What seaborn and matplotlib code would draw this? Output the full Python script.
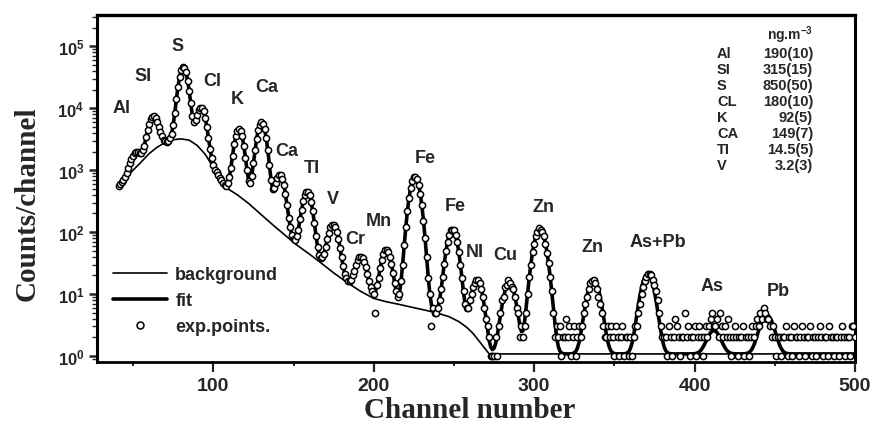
import numpy as np
import matplotlib
matplotlib.use("Agg")
import matplotlib.pyplot as plt
import seaborn as sns
from matplotlib.lines import Line2D
from matplotlib.ticker import FixedLocator, LogLocator, NullFormatter, FixedFormatter

# ---- spectrum data -------------------------------------------------------
first_channel = 41

# measured counts per channel, channels 41..500
exp_counts = [
    560, 600, 640, 700, 780, 890, 1100, 1300, 1500, 1700,
    1900, 2000, 2000, 1900, 1900, 2100, 2500, 3400, 4400, 5600,
    6700, 7300, 7500, 7000, 6100, 5000, 4100, 3500, 3100, 2950,
    2900, 3000, 3300, 3900, 5400, 8400, 14000, 22000, 32000, 41000,
    46000, 44000, 38000, 28000, 19000, 12000, 7500, 6100, 6400, 7800,
    9300, 10000, 10000, 8900, 7000, 4900, 3300, 2200, 1600, 1200,
    1000, 920, 840, 760, 690, 630, 580, 560, 610, 780,
    1100, 1700, 2600, 3500, 4300, 4600, 4300, 3500, 2500, 1600,
    1000, 680, 630, 820, 1300, 2100, 3200, 4400, 5400, 5900,
    5500, 4600, 3300, 2100, 1200, 690, 500, 510, 620, 750,
    840, 830, 730, 570, 410, 270, 170, 120, 89, 77,
    75, 85, 110, 160, 230, 320, 400, 450, 450, 400,
    310, 220, 140, 88, 58, 43, 38, 39, 45, 58,
    76, 97, 120, 130, 130, 120, 100, 77, 56, 39,
    28, 21, 18, 16, 16, 17, 20, 24, 29, 35,
    39, 40, 38, 33, 27, 21, 16, 13, 11, 10,
    5, 14, 18, 26, 35, 44, 51, 52, 48, 40,
    31, 22, 15, 11, 9, 10, 16, 30, 61, 120,
    220, 360, 520, 670, 770, 790, 720, 580, 420, 270,
    150, 80, 39, 18, 10, 3, 6, 5, 5, 6,
    8, 12, 19, 31, 49, 70, 91, 110, 110, 110,
    90, 69, 48, 30, 18, 11, 7, 6, 6, 8,
    10, 13, 15, 17, 17, 15, 12, 9, 6, 4,
    3, 2,
    1, 1, 1, 2, 1,
    3, 5, 8, 9, 13, 14, 17, 15, 13, 12, 9, 6, 5,
    2, 3, 2, 3, 5, 10,
    19, 30, 48, 65, 88, 100, 115, 110, 100, 85, 65, 46, 32, 19, 11,
    5, 2, 3, 2, 3, 1, 2, 2, 4, 2, 3,
    1, 2, 3, 1, 2, 3, 2, 3,
    5, 7, 9, 12, 15, 16, 17, 15, 12, 9, 7, 5, 3, 2, 2,
    3, 2, 3, 2, 1, 3, 2, 1, 2, 3, 1, 2, 2, 1, 2, 1,
    2, 3, 3, 5, 7, 10, 13, 16, 19, 21, 21, 20, 17, 14, 11, 8, 5, 3, 2, 2,
    2, 1, 3, 2, 1, 2, 4, 3, 2, 1, 2, 2, 5, 2, 3, 1, 2, 2, 3, 1, 2, 3, 2,
    1, 2, 3, 2, 3, 4, 5, 3, 3, 4, 2, 5, 3, 2, 3, 2,
    4, 2, 1, 2, 3, 2, 1, 2, 2, 3, 1, 2, 2, 1, 2, 3,
    2, 3, 4, 3, 5, 4, 6, 5, 4, 4, 3, 2, 3, 2, 1, 2, 2,
    1, 2, 2, 3, 1, 2, 2, 1, 3, 2, 2, 1, 2, 3, 2, 1, 2, 2, 3, 1, 2, 2, 1, 2, 3,
    2, 1, 2, 2, 1, 3, 2, 2, 1, 2, 2, 1, 2, 3, 2, 1, 2, 2, 1, 3, 3, 2,
]

# background knots (channel, counts)
bg_channel = [41, 45, 50, 55, 60, 65, 70, 75, 80, 85, 90, 95, 100, 104, 108, 115,
              122, 130, 138, 145, 152, 160, 167, 175, 184, 192, 200, 208, 216,
              224, 232, 240, 247, 253, 258, 262, 266, 269, 272, 500]
bg_counts = [560, 720, 1000, 1350, 1850, 2350, 2800, 3100, 3200, 3050, 2500, 1800,
             1100, 760, 520, 400, 290, 190, 125, 88, 62, 44, 32, 22, 15, 11, 8.5,
             7.5, 6.8, 6.1, 5.5, 4.9, 4.3, 3.6, 2.9, 2.3, 1.7, 1.35, 1.08, 1.08]

# fitted X-ray lines: centre channel, height above background, width (sigma)
peak_line = ["Al", "Si", "S", "Cl", "K", "K-b", "Ca", "Ca-b", "Ti", "V", "Cr", "Mn",
             "Fe", "Fe-b", "Ni", "Cu", "Zn", "Zn-b", "As+Pb", "As-b", "Pb-b"]
peak_center = [51.5, 62.5, 81.3, 92.5, 116, 127, 130.2, 141.5, 158.5, 174.7, 192,
               207.8, 225.7, 249, 264.5, 284.5, 303.5, 337, 370.7, 412, 445]
peak_height = [850, 5400, 42800, 8200, 4200, 400, 5500, 740, 410, 111, 29, 45,
               790, 108, 15, 14, 111, 16, 20, 1.5, 3.5]
peak_sigma = [2.8, 2.9, 2.6, 2.6, 2.6, 2.6, 2.6, 2.7, 2.7, 2.9, 2.9, 2.8, 2.9, 3.0,
              3.0, 3.3, 3.4, 3.5, 3.6, 3.8, 3.9]

# element labels on the spectrum
lab_text = ["Al", "SI", "S", "Cl", "K", "Ca", "Ca", "TI", "V", "Cr", "Mn", "Fe", "Fe",
            "NI", "Cu", "Zn", "Zn", "As+Pb", "As", "Pb"]
lab_x = [43.1, 56.2, 78, 99.2, 114.8, 133.5, 146, 161.5, 174.6, 188.3, 203.3, 232,
         250.7, 263.2, 281.9, 305.6, 336.2, 377.3, 411, 452.1]
lab_y = [10100, 33300, 102000, 27700, 14200, 22300, 2050, 1120, 345, 78, 152, 1630,
         265, 48, 44, 255, 57.6, 69.5, 13.5, 11.6]

# concentrations (ng/m3)
conc_el = ["Al", "SI", "S", "CL", "K", "CA", "TI", "V"]
conc_val = ["190(10)", "315(15)", "850(50)", "180(10)", "92(5)", "149(7)", "14.5(5)",
            "3.2(3)"]

x_major = [100, 200, 300, 400, 500]
x_minor = [50, 150, 250, 350, 450]
y_major = [1, 10, 100, 1e3, 1e4, 1e5]
y_major_labels = [r"$10^{0}$", r"$10^{1}$", r"$10^{2}$", r"$10^{3}$", r"$10^{4}$",
                  r"$10^{5}$"]

# ---- fit curve: background plus Gaussian lines ----------------------------
channels = np.arange(first_channel, first_channel + len(exp_counts))
fit = np.exp(np.interp(channels, bg_channel, np.log(bg_counts)))
for c, h, s in zip(peak_center, peak_height, peak_sigma):
    fit = fit + h * np.exp(-(channels - c) ** 2 / (2 * s ** 2))

# ---- style ----------------------------------------------------------------
sns.set_theme(style="ticks")
plt.rcParams["font.family"] = ["Liberation Sans", "DejaVu Sans"]
plt.rcParams["font.weight"] = "bold"
plt.rcParams["mathtext.fontset"] = "custom"
plt.rcParams["mathtext.rm"] = "Liberation Sans:bold"
plt.rcParams["mathtext.bf"] = "Liberation Sans:bold"
plt.rcParams["mathtext.it"] = "Liberation Sans:bold"

fig = plt.figure(figsize=(8.75, 4.35), dpi=100)
ax = fig.add_axes([97 / 875, 1 - 362.5 / 435, 758 / 875, 346.5 / 435])

sns.lineplot(x=bg_channel, y=bg_counts, ax=ax, color="black", lw=1.2, zorder=2)
sns.lineplot(x=channels, y=fit, ax=ax, color="black", lw=2.6, zorder=3)
sns.scatterplot(x=channels, y=exp_counts, ax=ax, marker="o", s=20,
                facecolor="white", edgecolor="black", linewidth=1.1, zorder=4)

ax.set_yscale("log")
ax.set_xlim(27.5, 500)
ax.set_ylim(0.815, 3.2e5)

ax.xaxis.set_major_locator(FixedLocator(x_major))
ax.xaxis.set_minor_locator(FixedLocator(x_minor))
ax.yaxis.set_major_locator(FixedLocator(y_major))
ax.yaxis.set_major_formatter(FixedFormatter(y_major_labels))
ax.yaxis.set_minor_locator(LogLocator(base=10, subs=np.arange(2, 10), numticks=20))
ax.yaxis.set_minor_formatter(NullFormatter())

ax.tick_params(axis="x", which="major", direction="out", length=7, width=1.6,
               labelsize=14, pad=4)
ax.tick_params(axis="x", which="minor", direction="out", length=3, width=1.4)
ax.tick_params(axis="y", which="major", direction="out", length=6, width=1.8,
               labelsize=12, pad=3)
ax.tick_params(axis="y", which="minor", direction="out", length=3.5, width=1.0)
for lab in ax.get_xticklabels():
    lab.set_fontweight("bold")

for side, lw in [("left", 2.2), ("bottom", 2.0), ("top", 2.4), ("right", 2.2)]:
    ax.spines[side].set_visible(True)
    ax.spines[side].set_linewidth(lw)
    ax.spines[side].set_color("black")

ax.set_xlabel("Channel number", family="Liberation Serif", fontsize=21,
              fontweight="bold")
ax.set_ylabel("Counts/channel", family="Liberation Serif", fontsize=21,
              fontweight="bold")
ax.xaxis.set_label_coords(0.492, -0.10)
ax.yaxis.set_label_coords(-0.075, 0.457)

for t, x, y in zip(lab_text, lab_x, lab_y):
    ax.text(x, y, t, ha="center", va="center", fontsize=13, fontweight="bold")


def fx(px):
    return (px - 97) / 758


def fy(py):
    return (362.5 - py) / 346.5


ax.text(fx(813), fy(40), r"ng.m$^{-3}$", transform=ax.transAxes, ha="right",
        va="baseline", fontsize=10, fontweight="bold")
for i, (e, v) in enumerate(zip(conc_el, conc_val)):
    py = 54 + i * 16
    ax.text(fx(717), fy(py), e, transform=ax.transAxes, ha="left", va="center",
            fontsize=10.5, fontweight="bold")
    ax.text(fx(813), fy(py), v, transform=ax.transAxes, ha="right", va="center",
            fontsize=10.5, fontweight="bold")

handles = [Line2D([], [], color="black", lw=1.2),
           Line2D([], [], color="black", lw=2.6),
           Line2D([], [], color="black", lw=0, marker="o", markersize=5,
                  markerfacecolor="white", markeredgewidth=1.1)]
ax.legend(handles, ["background", "fit", "exp.points."], loc="upper left",
          bbox_to_anchor=(fx(113), fy(267)), frameon=False, borderpad=0,
          borderaxespad=0, handlelength=3.0, handletextpad=0.45, labelspacing=0.5,
          prop={"size": 13, "weight": "bold"})

fig.savefig("out.png", dpi=100)
